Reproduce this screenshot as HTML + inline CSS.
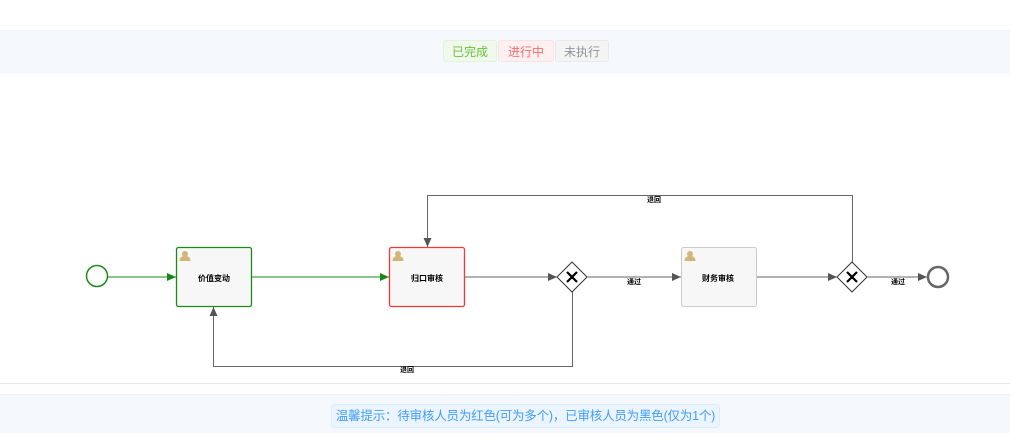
<!DOCTYPE html>
<html><head><meta charset="utf-8"><style>
body{margin:0;width:1010px;height:432px;background:#fff;position:relative;overflow:hidden;font-family:"Liberation Sans","Noto Sans CJK SC",sans-serif}
.band{position:absolute;left:0;width:1010px;background:#f5f9fd}
.b{position:absolute;top:40px;height:22px;line-height:22px;font-size:12px;text-align:center;border-radius:3px;box-sizing:border-box}
</style></head><body>
<div class="band" style="top:30px;height:43px;border-top:1px solid #eef2f6"></div>
<div class="b" style="left:443px;width:54px;background:#f0f9eb;border:1px solid #e1f3d8;color:#67c23a">已完成</div>
<div class="b" style="left:498px;width:56px;background:#fef0f0;border:1px solid #fde2e2;color:#f56c6c">进行中</div>
<div class="b" style="left:555px;width:54px;background:#f4f4f5;border:1px solid #e9e9eb;color:#909399">未执行</div>
<div style="position:absolute;top:383px;left:0;width:1010px;height:1px;background:#e8e8e8"></div>
<div class="band" style="top:394px;height:38px;border-top:1px solid #eaf0f6"></div>
<div style="position:absolute;left:331px;top:404px;width:389px;height:24px;box-sizing:border-box;border:1px solid #d9ecff;background:#ecf5ff;border-radius:4px;color:#409eff;font-size:12.5px;line-height:22px;text-align:center;white-space:nowrap;letter-spacing:-0.2px">温馨提示：待审核人员为红色(可为多个)，已审核人员为黑色(仅为1个)</div>
<svg width="1010" height="432" style="position:absolute;left:0;top:0" font-family="Liberation Sans,Noto Sans CJK SC,sans-serif">
<defs>
<marker id="g" markerWidth="10" markerHeight="10" refX="9" refY="5" orient="auto" markerUnits="userSpaceOnUse"><path d="M0,1 L9,5 L0,9z" fill="#138a13"/></marker>
<marker id="k" markerWidth="10" markerHeight="10" refX="9" refY="5" orient="auto" markerUnits="userSpaceOnUse"><path d="M0,1 L9,5 L0,9z" fill="#555"/></marker>
<g id="u"><circle cx="0" cy="-3" r="3" fill="#d4b679"/><path d="M-5.5,4 Q-5.5,-1 0,-1 Q5.5,-1 5.5,4z" fill="#d4b679"/></g>
</defs>
<circle cx="97" cy="276" r="10.5" fill="#fff" stroke="#1a8a1a" stroke-width="1.5"/>
<line x1="108" y1="277" x2="176" y2="277" stroke="#1a8a1a" marker-end="url(#g)"/>
<rect x="176.5" y="247.5" width="75" height="59" rx="2" fill="#f7f7f7" stroke="#1a8a1a" stroke-width="1.3"/>
<use href="#u" x="185" y="257"/>
<text x="214" y="281" font-size="8" font-weight="bold" text-anchor="middle">价值变动</text>
<line x1="252" y1="277" x2="389" y2="277" stroke="#1a8a1a" marker-end="url(#g)"/>
<rect x="389.5" y="247.5" width="75" height="59" rx="2" fill="#f7f7f7" stroke="#f03a3a" stroke-width="1.3"/>
<use href="#u" x="398" y="257"/>
<text x="427" y="281" font-size="8" font-weight="bold" text-anchor="middle">归口审核</text>
<line x1="465" y1="277" x2="557" y2="277" stroke="#666" marker-end="url(#k)"/>
<path d="M572,262 L587,277 L572,292 L557,277z" fill="#fff" stroke="#333"/>
<path d="M567,272 L577,282 M577,272 L567,282" stroke="#000" stroke-width="2.2"/>
<line x1="587" y1="277" x2="681" y2="277" stroke="#666" marker-end="url(#k)"/>
<text x="634" y="284" font-size="7" font-weight="bold" text-anchor="middle">通过</text>
<rect x="681.5" y="247.5" width="75" height="59" rx="2" fill="#f7f7f7" stroke="#ccc"/>
<use href="#u" x="690" y="257"/>
<text x="718" y="281" font-size="8" font-weight="bold" text-anchor="middle">财务审核</text>
<line x1="757" y1="277" x2="837" y2="277" stroke="#666" marker-end="url(#k)"/>
<path d="M852,262 L867,277 L852,292 L837,277z" fill="#fff" stroke="#333"/>
<path d="M847,272 L857,282 M857,272 L847,282" stroke="#000" stroke-width="2.2"/>
<line x1="867" y1="277" x2="927" y2="277" stroke="#666" marker-end="url(#k)"/>
<text x="898" y="284" font-size="7" font-weight="bold" text-anchor="middle">通过</text>
<circle cx="938" cy="277" r="10" fill="#fff" stroke="#666" stroke-width="2.5"/>
<path d="M852.5,262 V195.5 H427.5 V247" fill="none" stroke="#666" marker-end="url(#k)"/>
<text x="654" y="202" font-size="7" font-weight="bold" text-anchor="middle">退回</text>
<path d="M572.5,292 V366.5 H213.5 V307" fill="none" stroke="#666" marker-end="url(#k)"/>
<text x="407" y="372" font-size="7" font-weight="bold" text-anchor="middle">退回</text>
</svg>
</body></html>
